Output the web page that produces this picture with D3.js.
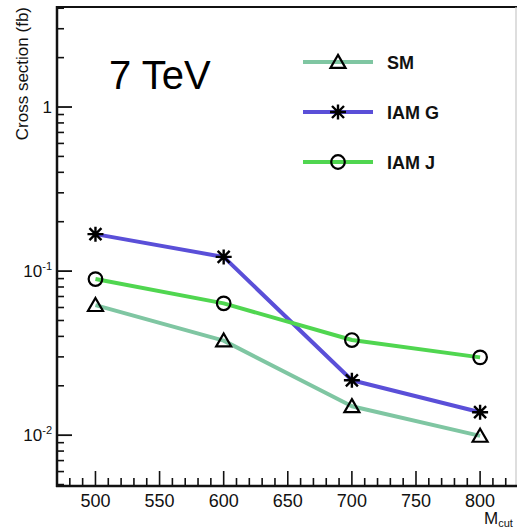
<!DOCTYPE html>
<html>
<head>
<meta charset="utf-8">
<script src="https://cdn.jsdelivr.net/npm/d3@7"></script>
<style>
  html, body { margin: 0; padding: 0; background: #fff; }
  svg { display: block; }
  text { font-family: "Liberation Sans", Arial, sans-serif; fill: #111; }
</style>
</head>
<body>
<svg id="chart" width="517" height="531"></svg>
<script>
// Cross section vs. M_cut for three models (7 TeV)
const mcut = [500, 600, 700, 800];
const smValues = [0.062, 0.0377, 0.0150, 0.0099];
const iamGValues = [0.168, 0.122, 0.0216, 0.0138];
const iamJValues = [0.0894, 0.0636, 0.0380, 0.0298];
const seriesNames = ["SM", "IAM G", "IAM J"];
const xTickLabels = [500, 550, 600, 650, 700, 750, 800];
const yTickLabels = [0.01, 0.1, 1];

const series = [
  { name: seriesNames[0], values: smValues, color: "#7fc6a2", marker: "triangle" },
  { name: seriesNames[1], values: iamGValues, color: "#5a4fd8", marker: "star" },
  { name: seriesNames[2], values: iamJValues, color: "#50d650", marker: "circle" }
];

const svg = d3.select("#chart");
const frame = { left: 57, right: 516, top: 7, bottom: 486 };

const x = d3.scaleLinear().domain([470, 828]).range([frame.left, frame.right]);
const y = d3.scaleLog().domain([0.0049, 4.07]).range([frame.bottom, frame.top]);

// Frame: top line and faint right edge
svg.append("line").attr("x1", frame.left).attr("x2", 517)
  .attr("y1", frame.top).attr("y2", frame.top)
  .attr("stroke", "#111").attr("stroke-width", 2);
svg.append("line").attr("x1", frame.right).attr("x2", frame.right)
  .attr("y1", frame.top).attr("y2", frame.bottom)
  .attr("stroke", "#c8c8c8").attr("stroke-width", 1.2);

// X axis: major ticks every 50, minor every 10, drawn inward
const xAxisG = svg.append("g");
const xMinor = d3.range(480, 828, 10).filter(v => v % 50 !== 0);
xAxisG.selectAll("line.minor").data(xMinor).join("line")
  .attr("x1", d => x(d)).attr("x2", d => x(d))
  .attr("y1", frame.bottom).attr("y2", frame.bottom - 8)
  .attr("stroke", "#111").attr("stroke-width", 1.6);
xAxisG.selectAll("line.major").data(xTickLabels).join("line")
  .attr("x1", d => x(d)).attr("x2", d => x(d))
  .attr("y1", frame.bottom).attr("y2", frame.bottom - 15)
  .attr("stroke", "#111").attr("stroke-width", 1.6);
xAxisG.selectAll("text").data(xTickLabels).join("text")
  .attr("x", d => x(d)).attr("y", 507)
  .attr("text-anchor", "middle").attr("font-size", 18)
  .text(d => d);
xAxisG.append("line").attr("x1", frame.left - 1).attr("x2", 517)
  .attr("y1", frame.bottom).attr("y2", frame.bottom)
  .attr("stroke", "#111").attr("stroke-width", 2.5);

// M_cut axis title
const xTitle = svg.append("text").attr("x", 484).attr("y", 524).attr("font-size", 17);
xTitle.append("tspan").text("M");
xTitle.append("tspan").attr("font-size", 11).attr("dy", 3).text("cut");

// Y axis: log decades with minor ticks 2..9
const yAxisG = svg.append("g");
const yMinor = [];
[0.001, 0.01, 0.1, 1].forEach(dec => {
  for (let k = 2; k <= 9; k++) {
    const v = dec * k;
    if (v > y.domain()[0] && v < y.domain()[1]) yMinor.push(v);
  }
});
yAxisG.selectAll("line.minor").data(yMinor).join("line")
  .attr("x1", frame.left).attr("x2", frame.left + 7)
  .attr("y1", d => y(d)).attr("y2", d => y(d))
  .attr("stroke", "#111").attr("stroke-width", 1.6);
yAxisG.selectAll("line.major").data(yTickLabels).join("line")
  .attr("x1", frame.left).attr("x2", frame.left + 15)
  .attr("y1", d => y(d)).attr("y2", d => y(d))
  .attr("stroke", "#111").attr("stroke-width", 1.8);
yAxisG.append("line").attr("x1", frame.left).attr("x2", frame.left)
  .attr("y1", frame.top - 1).attr("y2", frame.bottom + 1)
  .attr("stroke", "#111").attr("stroke-width", 2.5);

yTickLabels.forEach(v => {
  const exp = Math.round(Math.log10(v));
  const t = yAxisG.append("text")
    .attr("x", 52).attr("y", y(v) + 6)
    .attr("text-anchor", "end").attr("font-size", 17);
  if (exp === 0) {
    t.text("1");
  } else {
    t.append("tspan").text("10");
    t.append("tspan").attr("font-size", 11).attr("dy", -7).text(String(exp));
  }
});

// Y axis title, right-aligned at the top
svg.append("text")
  .attr("transform", "translate(28,7) rotate(-90)")
  .attr("text-anchor", "end").attr("font-size", 17)
  .text("Cross section (fb)");

// Energy label
svg.append("text")
  .attr("x", 109).attr("y", 89)
  .attr("font-family", "Lato, 'Open Sans', sans-serif")
  .attr("font-size", 40)
  .style("fill", "#000")
  .text("7 TeV");

// Marker shapes (open, black)
function drawMarker(g, type, cx, cy) {
  if (type === "triangle") {
    const w = 7.5, h = 13;
    g.append("path")
      .attr("d", `M${cx},${cy - h * 0.55} L${cx + w},${cy + h * 0.45} L${cx - w},${cy + h * 0.45} Z`)
      .attr("fill", "none").attr("stroke", "#000").attr("stroke-width", 2.2)
      .attr("stroke-linejoin", "miter");
  } else if (type === "circle") {
    g.append("circle").attr("cx", cx).attr("cy", cy).attr("r", 6.8)
      .attr("fill", "none").attr("stroke", "#000").attr("stroke-width", 2.2);
  } else {
    const r = 8, d = 6;
    const p = `M${cx - r},${cy} L${cx + r},${cy} M${cx},${cy - 7.5} L${cx},${cy + 7.5}` +
      ` M${cx - d},${cy - d} L${cx + d},${cy + d} M${cx - d},${cy + d} L${cx + d},${cy - d}`;
    g.append("path").attr("d", p).attr("stroke", "#000").attr("stroke-width", 2.4)
      .attr("fill", "none");
  }
}

const line = d3.line().x(d => x(d[0])).y(d => y(d[1]));
const plotG = svg.append("g");
series.forEach(s => {
  const pts = mcut.map((m, i) => [m, s.values[i]]);
  plotG.append("path").datum(pts).attr("d", line)
    .attr("fill", "none").attr("stroke", s.color).attr("stroke-width", 4)
    .attr("stroke-linejoin", "round");
});
series.forEach(s => {
  mcut.forEach((m, i) => drawMarker(plotG, s.marker, x(m), y(s.values[i])));
});

// Legend
const legendG = svg.append("g");
series.forEach((s, i) => {
  const ly = 62 + i * 50;
  legendG.append("line").attr("x1", 303).attr("x2", 373)
    .attr("y1", ly).attr("y2", ly)
    .attr("stroke", s.color).attr("stroke-width", 4);
  drawMarker(legendG, s.marker, 338, ly);
  legendG.append("text").attr("x", 387).attr("y", ly + 7)
    .attr("font-size", 18).attr("font-weight", "bold")
    .text(s.name);
});
</script>
</body>
</html>
